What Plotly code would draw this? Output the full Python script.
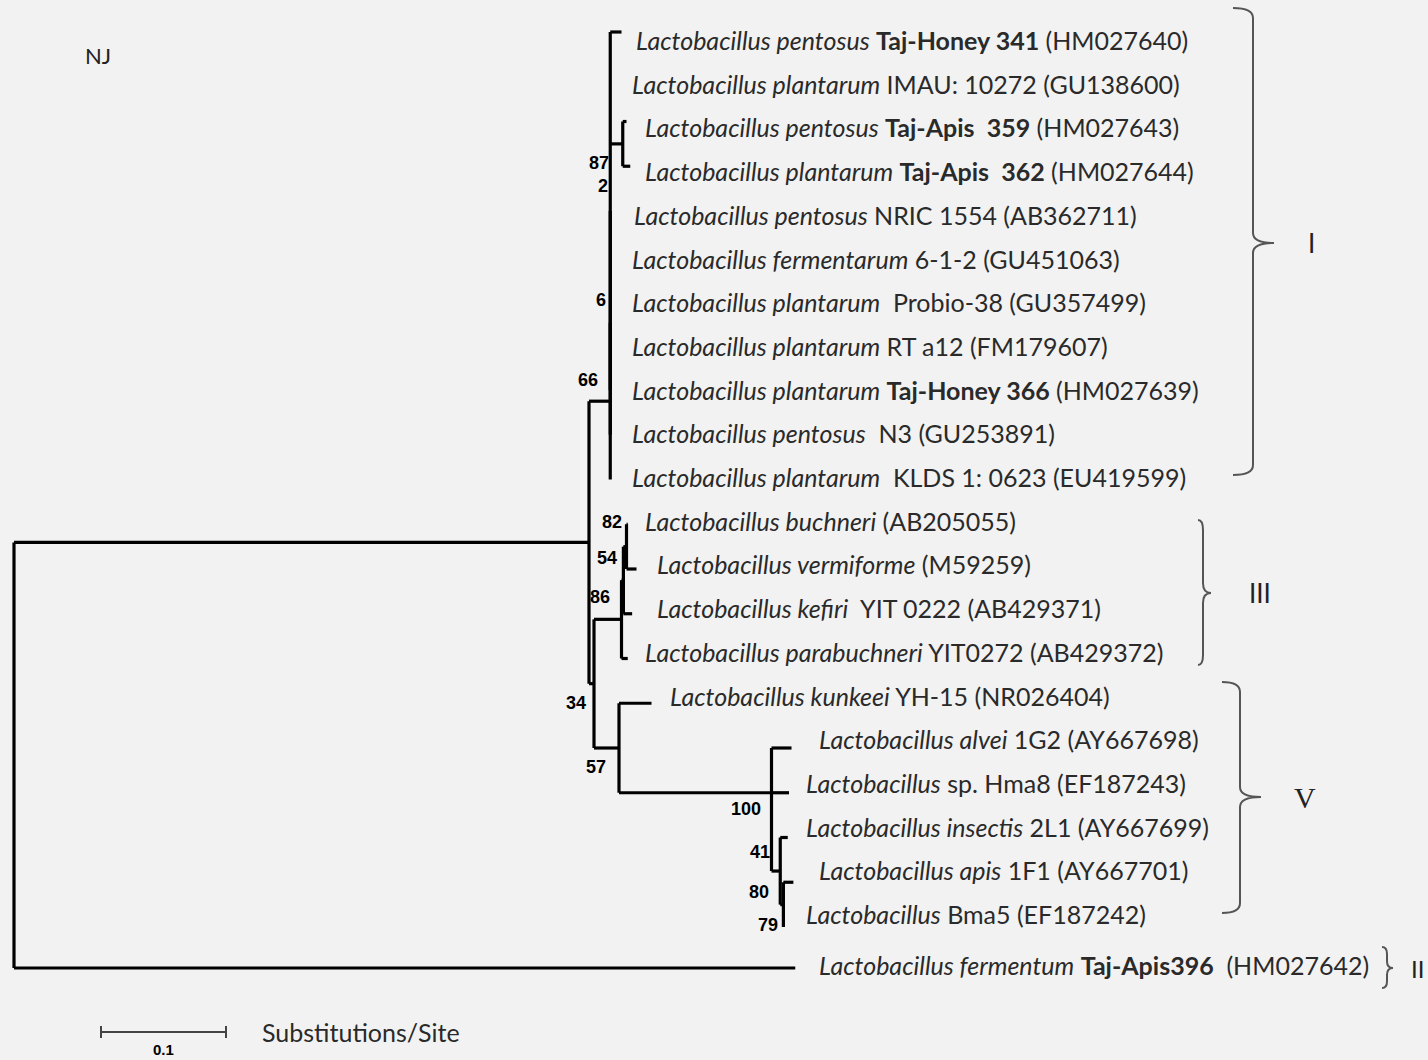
import plotly.graph_objects as go

# ---------------- data ----------------
leaf_labels = [
    "<i>Lactobacillus pentosus</i> <b>Taj-Honey 341</b> (HM027640)",
    "<i>Lactobacillus plantarum</i> IMAU: 10272 (GU138600)",
    "<i>Lactobacillus pentosus</i> <b>Taj-Apis\u00a0 359</b> (HM027643)",
    "<i>Lactobacillus plantarum</i> <b>Taj-Apis\u00a0 362</b> (HM027644)",
    "<i>Lactobacillus pentosus</i> NRIC 1554 (AB362711)",
    "<i>Lactobacillus fermentarum</i> 6-1-2 (GU451063)",
    "<i>Lactobacillus plantarum</i>\u00a0 Probio-38 (GU357499)",
    "<i>Lactobacillus plantarum</i> RT a12 (FM179607)",
    "<i>Lactobacillus plantarum</i> <b>Taj-Honey 366</b> (HM027639)",
    "<i>Lactobacillus pentosus</i>\u00a0 N3 (GU253891)",
    "<i>Lactobacillus plantarum</i>\u00a0 KLDS 1: 0623 (EU419599)",
    "<i>Lactobacillus buchneri</i> (AB205055)",
    "<i>Lactobacillus vermiforme</i> (M59259)",
    "<i>Lactobacillus kefiri</i>\u00a0 YIT 0222 (AB429371)",
    "<i>Lactobacillus parabuchneri</i> YIT0272 (AB429372)",
    "<i>Lactobacillus kunkeei</i> YH-15 (NR026404)",
    "<i>Lactobacillus alvei</i> 1G2 (AY667698)",
    "<i>Lactobacillus</i> sp. Hma8 (EF187243)",
    "<i>Lactobacillus insectis</i> 2L1 (AY667699)",
    "<i>Lactobacillus apis</i> 1F1 (AY667701)",
    "<i>Lactobacillus</i> Bma5 (EF187242)",
    "<i>Lactobacillus fermentum</i> <b>Taj-Apis396</b>\u00a0 (HM027642)",
]
leaf_ids = ["T341", "IMAU", "Apis359", "Apis362", "NRIC", "Ferm612", "Probio", "RTa12",
            "Honey366", "N3", "KLDS", "buchneri", "vermiforme", "kefiri", "parabuchneri",
            "kunkeei", "alvei", "Hma8", "insectis", "apis", "Bma5", "fermentum"]

# tree topology: node -> [(child, branch length in substitutions/site)]
tree = {
    "root": [("ingroup", 0.460), ("fermentum", 0.625)],
    "ingroup": [("n66", 0.017), ("n34", 0.004)],
    "n66": [("n6", 0.0), ("KLDS", 0.0)],
    "n6": [("n2", 0.0), ("N3", 0.0)],
    "n2": [("T341", 0.009), ("IMAU", 0.0), ("n87", 0.010), ("NRIC", 0.0), ("Ferm612", 0.0),
           ("Probio", 0.0), ("RTa12", 0.0), ("Honey366", 0.0)],
    "n87": [("Apis359", 0.003), ("Apis362", 0.006)],
    "n34": [("n86", 0.022), ("n57", 0.020)],
    "n86": [("n54", 0.0015), ("parabuchneri", 0.005)],
    "n54": [("n82", 0.0025), ("kefiri", 0.007)],
    "n82": [("buchneri", 0.001), ("vermiforme", 0.008)],
    "n57": [("kunkeei", 0.026), ("n100", 0.122)],
    "n100": [("alvei", 0.016), ("Hma8", 0.014), ("n41", 0.007)],
    "n41": [("insectis", 0.006), ("n80", 0.0025)],
    "n80": [("apis", 0.008), ("Bma5", 0.0)],
}
bootstrap_nodes = ["n87", "n2", "n6", "n66", "n82", "n54", "n86", "n34", "n57", "n100", "n41", "n80", "n80"]
bootstrap_vals = [87, 2, 6, 66, 82, 54, 86, 34, 57, 100, 41, 80, 79]

clusters = ["I", "III", "V", "II"]
scale_len = 0.1

# ---------------- layout constants (pixels) ----------------
W, H = 1428, 1060
ROOT_PX = 14.0
PX_PER_UNIT = 1250.0
TIP_TOP, TIP_STEP, LAST_GAP = 32.0, 44.75, 41.0
LAB_TOP, LAB_STEP, LAB_LAST_GAP = 40.0, 43.7, 51.0
label_x_px = [634, 630, 643, 643, 632, 630, 630, 630, 630, 630, 630,
              643, 655, 655, 643, 668, 817, 804, 804, 817, 804, 817]
boot_offsets = [(-24, 19), (-7, -25), (-9, -23), (-22, -21), (-15, -25), (-16, -22),
                (-22, -22), (-18, 19), (-23, 19), (-26, 16), (-20, -19), (-24, -13), (-15, 20)]

# ---------------- tree layout ----------------
leaf_y = {}
for i, lid in enumerate(leaf_ids):
    if i < len(leaf_ids) - 1:
        leaf_y[lid] = TIP_TOP + TIP_STEP * i
    else:
        leaf_y[lid] = TIP_TOP + TIP_STEP * (i - 1) + LAST_GAP

xpos, ypos = {}, {}


def place(node, d):
    xpos[node] = d
    if node not in tree:
        ypos[node] = leaf_y[node]
        return
    for ch, bl in tree[node]:
        place(ch, d + bl)
    ys = [ypos[ch] for ch, _ in tree[node]]
    if len(ys) % 2 == 1 and len(ys) > 1:
        ypos[node] = ys[len(ys) // 2]
    else:
        ypos[node] = (ys[0] + ys[-1]) / 2


place("root", 0.0)

sx, sy = [], []
for node, kids in tree.items():
    ys = [ypos[ch] for ch, _ in kids]
    sx += [xpos[node], xpos[node], None]
    sy += [min(ys), max(ys), None]
    for ch, _ in kids:
        sx += [xpos[node], xpos[ch], None]
        sy += [ypos[ch], ypos[ch], None]

fig = go.Figure()
fig.add_trace(go.Scatter(x=sx, y=sy, mode="lines", line=dict(color="black", width=3.2),
                         hoverinfo="skip", showlegend=False))

# scale bar (data units)
sb_x0 = (101 - ROOT_PX) / PX_PER_UNIT
sb_y = 1032
fig.add_trace(go.Scatter(x=[sb_x0, sb_x0 + scale_len, None, sb_x0, sb_x0, None,
                            sb_x0 + scale_len, sb_x0 + scale_len],
                         y=[sb_y, sb_y, None, sb_y - 6, sb_y + 6, None, sb_y - 6, sb_y + 6],
                         mode="lines", line=dict(color="#444", width=2),
                         hoverinfo="skip", showlegend=False))

annotations = []
label_font = dict(family="Lato", size=25, color="#2a2a2a")
for i, lab in enumerate(leaf_labels):
    if i < len(leaf_labels) - 1:
        ly = LAB_TOP + LAB_STEP * i
    else:
        ly = LAB_TOP + LAB_STEP * (i - 1) + LAB_LAST_GAP
    annotations.append(dict(x=label_x_px[i], y=ly, xref="x2", yref="y", text=lab,
                            showarrow=False, xanchor="left", yanchor="middle", font=label_font))

for node, val, (dx, dy) in zip(bootstrap_nodes, bootstrap_vals, boot_offsets):
    px = ROOT_PX + xpos[node] * PX_PER_UNIT + dx
    annotations.append(dict(x=px, y=ypos[node] + dy, xref="x2", yref="y", text="<b>%d</b>" % val,
                            showarrow=False, xanchor="center", yanchor="middle",
                            font=dict(family="Liberation Sans", size=18, color="black")))

annotations.append(dict(x=98, y=55, xref="x2", yref="y", text="NJ", showarrow=False,
                        font=dict(family="Lato", size=22, color="#222")))
annotations.append(dict(x=ROOT_PX + (sb_x0 + scale_len / 2) * PX_PER_UNIT, y=1049, xref="x2", yref="y",
                        text="<b>0.1</b>", showarrow=False,
                        font=dict(family="Liberation Sans", size=15, color="black")))
annotations.append(dict(x=260, y=1032, xref="x2", yref="y", text="Substitutions/Site", showarrow=False,
                        xanchor="left", font=dict(family="Lato", size=25, color="#2a2a2a")))

# cluster brackets (pixel geometry)
brackets = [
    # top_x, top_y, vx, mid_y, tip_x, bot_y, label_x, font
    (1233, 8, 1253, 243, 1274, 475, 1311, dict(family="Lato", size=26, color="#222")),
    (1198, 520, 1203, 593, 1211, 665, 1260, dict(family="Lato", size=26, color="#222")),
    (1222, 682, 1240, 797, 1261, 913, 1305, dict(family="Liberation Serif", size=30, color="#222")),
    (1382, 947, 1387, 968, 1393, 988, 1417, dict(family="Lato", size=24, color="#222")),
]
shapes = []
for (tx, ty, vx, my, mx, by, lx, f), name in zip(brackets, clusters):
    r = min(10, (by - ty) / 6)
    path = (f"M {tx} {ty} Q {vx} {ty} {vx} {ty + r} L {vx} {my - r} "
            f"Q {vx} {my} {mx} {my} Q {vx} {my} {vx} {my + r} L {vx} {by - r} "
            f"Q {vx} {by} {tx} {by}")
    shapes.append(dict(type="path", path=path, xref="x2", yref="y",
                       line=dict(color="#555", width=2)))
    annotations.append(dict(x=lx, y=my, xref="x2", yref="y", text=name, showarrow=False,
                            xanchor="center", yanchor="middle", font=f))

fig.update_layout(
    width=W, height=H, margin=dict(l=0, r=0, t=0, b=0),
    paper_bgcolor="#f2f2f2", plot_bgcolor="#f2f2f2",
    xaxis=dict(range=[-ROOT_PX / PX_PER_UNIT, (W - ROOT_PX) / PX_PER_UNIT], visible=False),
    xaxis2=dict(range=[0, W], overlaying="x", visible=False),
    yaxis=dict(range=[H, 0], visible=False),
    annotations=annotations, shapes=shapes,
)
fig.write_html("out.html")
